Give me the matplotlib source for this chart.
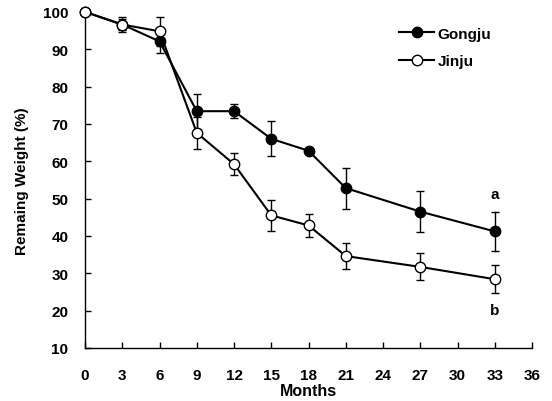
import matplotlib
matplotlib.use("Agg")
import matplotlib.pyplot as plt
from matplotlib.lines import Line2D

plt.rcParams['font.family'] = ['Liberation Sans', 'DejaVu Sans']
plt.rcParams['font.weight'] = 'bold'

months = [0, 3, 6, 9, 12, 15, 18, 21, 27, 33]
gongju = [100, 96.6, 92.1, 73.4, 73.4, 66.0, 62.8, 52.8, 46.5, 41.2]
gongju_err = [0, 1.5, 3.2, 4.7, 1.8, 4.7, 0.8, 5.5, 5.5, 5.2]
jinju = [100, 96.6, 94.8, 67.6, 59.2, 45.5, 42.8, 34.6, 31.7, 28.4]
jinju_err = [0, 2.0, 3.9, 4.3, 2.9, 4.1, 3.1, 3.5, 3.6, 3.8]
xticks = [0, 3, 6, 9, 12, 15, 18, 21, 24, 27, 30, 33, 36]
yticks = [10, 20, 30, 40, 50, 60, 70, 80, 90, 100]

fig = plt.figure(figsize=(5.52, 4.02), dpi=100)
ax = fig.add_axes([0.154, 0.132, 0.810, 0.836])

ax.errorbar(months, gongju, yerr=gongju_err, color='black', marker='o',
            markersize=7.5, markerfacecolor='black', markeredgecolor='black',
            linewidth=1.5, elinewidth=1.0, capsize=3, capthick=1.0,
            label='Gongju', zorder=3, clip_on=False)
ax.errorbar(months, jinju, yerr=jinju_err, color='black', marker='o',
            markersize=7.5, markerfacecolor='white', markeredgecolor='black',
            markeredgewidth=1.0,
            linewidth=1.5, elinewidth=1.0, capsize=3, capthick=1.0,
            label='Jinju', zorder=4, clip_on=False)

ax.text(33, 51.3, 'a', ha='center', va='center', fontsize=11, fontweight='bold')
ax.text(33, 20.2, 'b', ha='center', va='center', fontsize=11, fontweight='bold')

ax.set_xlim(0, 36)
ax.set_ylim(10, 100)
ax.set_xticks(xticks)
ax.set_yticks(yticks)
ax.tick_params(direction='in', length=4, width=1.0, labelsize=11)
ax.tick_params(axis='x', pad=14.5)
ax.tick_params(axis='y', pad=12)
for lab in ax.get_xticklabels() + ax.get_yticklabels():
    lab.set_fontweight('bold')
ax.spines['top'].set_visible(False)
ax.spines['right'].set_visible(False)
ax.spines['left'].set_linewidth(1.0)
ax.spines['bottom'].set_linewidth(1.0)

ax.set_xlabel('Months', fontsize=11.5, fontweight='bold', labelpad=0.5)
ax.set_ylabel('Remaing Weight (%)', fontsize=11, fontweight='bold', labelpad=10)

h1 = Line2D([], [], color='black', marker='o', markersize=7.5, markerfacecolor='black', linewidth=1.5)
h2 = Line2D([], [], color='black', marker='o', markersize=7.5, markerfacecolor='white', linewidth=1.5)
leg = ax.legend([h1, h2], ['Gongju', 'Jinju'], loc='upper left',
                bbox_to_anchor=(0.703, 0.956), frameon=False, handlelength=2.3,
                handletextpad=0.2, labelspacing=0.9, borderpad=0, borderaxespad=0,
                prop={'weight': 'bold', 'size': 11})

fig.savefig('out.png', dpi=100)
